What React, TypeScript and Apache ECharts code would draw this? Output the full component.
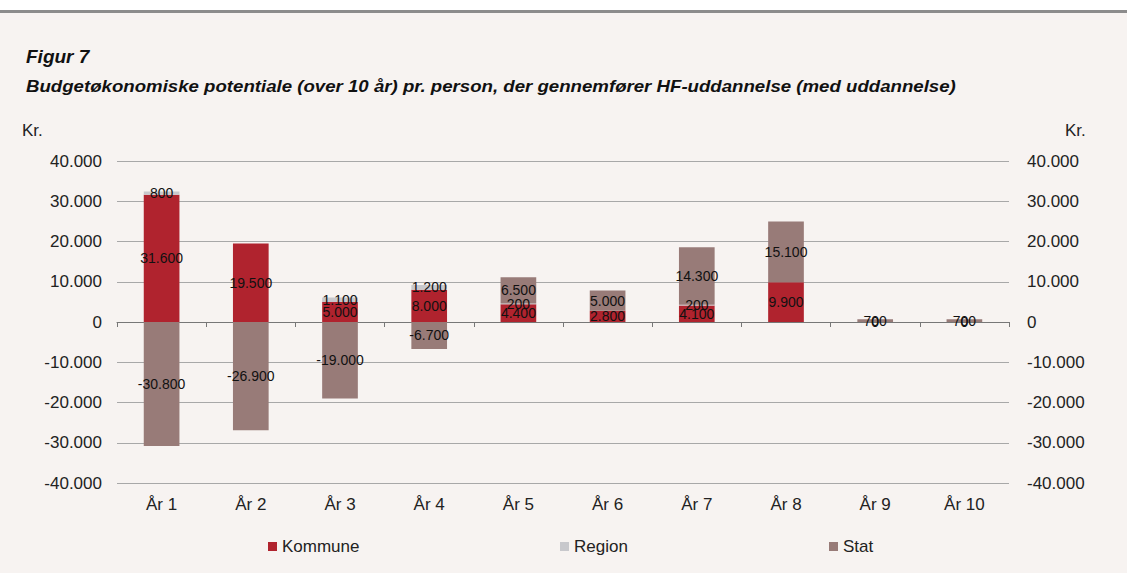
import React, { useEffect, useRef } from "react";
import * as echarts from "echarts";

const categories = ["År 1", "År 2", "År 3", "År 4", "År 5", "År 6", "År 7", "År 8", "År 9", "År 10"];
const kommune: (number | null)[] = [31600, 19500, 5000, 8000, 4400, 2800, 4100, 9900, 0, 0];
const region: (number | null)[] = [800, null, 1100, 1200, 200, null, 200, null, null, null];
const stat: (number | null)[] = [-30800, -26900, -19000, -6700, 6500, 5000, 14300, 15100, 700, 700];

const titleText = "Figur 7";
const subtitleText = "Budgetøkonomiske potentiale (over 10 år) pr. person, der gennemfører HF-uddannelse (med uddannelse)";
const unitText = "Kr.";

const FONT = "'Liberation Sans', Arial, sans-serif";
const BG = "#f7f3f1";

function fmt(v: number): string {
  const s = String(Math.abs(Math.round(v))).replace(/\B(?=(\d{3})+(?!\d))/g, ".");
  return (v < 0 ? "-" : "") + s;
}

export default function App() {
  const ref = useRef<HTMLDivElement>(null);
  useEffect(() => {
    if (!ref.current) return;
    const chart = echarts.init(ref.current, undefined, { renderer: "svg" });
    const label = {
      show: true,
      position: "inside" as const,
      color: "#111",
      fontSize: 14,
      fontFamily: FONT,
      formatter: (p: any) => (p.value === null || p.value === undefined ? "" : fmt(p.value)),
    };
    const yAxisBase = {
      type: "value" as const,
      min: -40000,
      max: 40000,
      interval: 10000,
      axisLine: { show: false },
      axisTick: { show: false },
    };
    const legendBase = {
      top: 533,
      itemWidth: 9,
      itemHeight: 9,
      icon: "rect",
      textStyle: { fontSize: 17, fontFamily: FONT, color: "#222" },
    };
    chart.setOption({
      animation: false,
      backgroundColor: BG,
      graphic: [
        { type: "rect", shape: { x: 0, y: 0, width: 1127, height: 10 }, style: { fill: "#ffffff" } },
        { type: "rect", shape: { x: 0, y: 10, width: 1127, height: 3 }, style: { fill: "#8c8c8c" } },
        {
          type: "text",
          x: 26,
          y: 56,
          style: { text: titleText, font: `italic bold 19px ${FONT}`, fill: "#111", textVerticalAlign: "middle" },
        },
        {
          type: "text",
          x: 26,
          y: 86,
          scaleX: 1.13,
          style: { text: subtitleText, font: `italic bold 16.5px ${FONT}`, fill: "#111", textVerticalAlign: "middle" },
        },
        {
          type: "text",
          x: 22,
          y: 130,
          style: { text: unitText, font: `17px ${FONT}`, fill: "#222", textVerticalAlign: "middle" },
        },
        {
          type: "text",
          x: 1065,
          y: 130,
          style: { text: unitText, font: `17px ${FONT}`, fill: "#222", textVerticalAlign: "middle" },
        },
      ],
      grid: { left: 117, right: 118, top: 161, bottom: 90, containLabel: false },
      legend: [
        { ...legendBase, data: ["Kommune"], left: 263 },
        { ...legendBase, data: ["Region"], left: 555 },
        { ...legendBase, data: ["Stat"], left: 824 },
      ],
      xAxis: [
        {
          type: "category",
          data: categories,
          position: "bottom",
          axisLine: { show: false, onZero: false },
          axisTick: { show: false },
          axisLabel: { fontSize: 17, fontFamily: FONT, color: "#222", margin: 13 },
        },
        {
          type: "category",
          data: categories,
          position: "top",
          axisLine: { show: true, onZero: true, lineStyle: { color: "#777", width: 1 } },
          axisTick: { show: true, inside: true, length: 5, lineStyle: { color: "#777" } },
          axisLabel: { show: false },
        },
      ],
      yAxis: [
        {
          ...yAxisBase,
          position: "left",
          splitLine: { show: true, lineStyle: { color: "#a8a8a8", width: 1 } },
          axisLabel: { fontSize: 17, fontFamily: FONT, color: "#222", margin: 15, formatter: (v: number) => fmt(v) },
        },
        {
          ...yAxisBase,
          position: "right",
          splitLine: { show: false },
          axisLabel: { fontSize: 17, fontFamily: FONT, color: "#222", margin: 18, formatter: (v: number) => fmt(v) },
        },
      ],
      series: [
        {
          name: "Kommune",
          type: "bar",
          stack: "total",
          barWidth: "40%",
          data: kommune,
          itemStyle: { color: "#b0232e" },
          label,
        },
        {
          name: "Region",
          type: "bar",
          stack: "total",
          barWidth: "40%",
          data: region,
          itemStyle: { color: "#c8c8cc" },
          label,
        },
        {
          name: "Stat",
          type: "bar",
          stack: "total",
          barWidth: "40%",
          data: stat,
          itemStyle: { color: "#987b78" },
          label,
        },
      ],
    });
    return () => chart.dispose();
  }, []);
  return (
    <div
      ref={ref}
      style={{ position: "fixed", left: 0, top: 0, width: 1127, height: 573, background: BG }}
    />
  );
}
